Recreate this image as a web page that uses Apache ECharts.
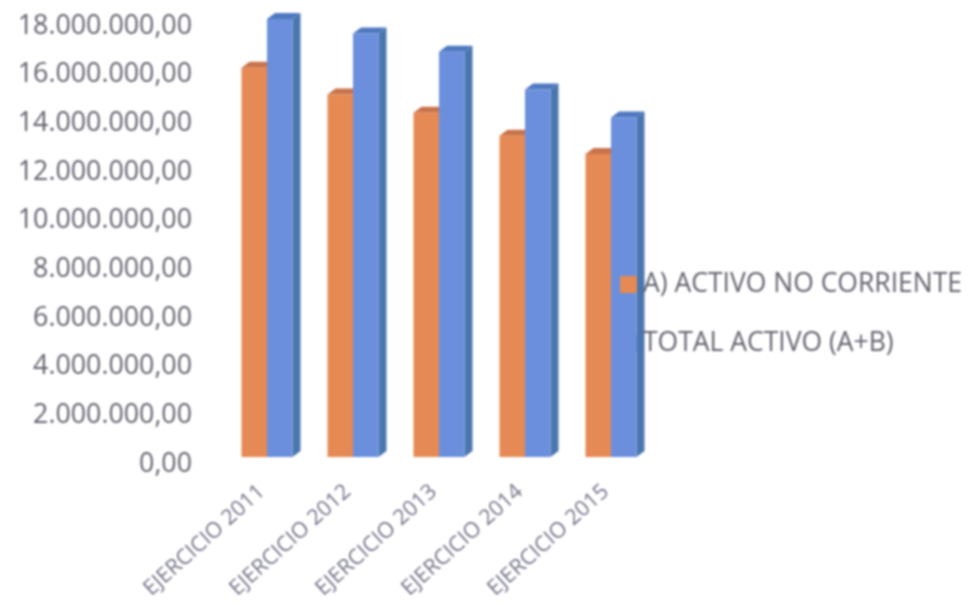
<!DOCTYPE html>
<html><head><meta charset="utf-8">
<style>html,body{margin:0;padding:0;background:#fff}#c{width:974px;height:606px;filter:blur(0.9px)}</style>
<script src="https://cdn.jsdelivr.net/npm/echarts@6/dist/echarts.min.js"></script>
</head><body><div id="c"></div>
<script>
const categories = ['EJERCICIO 2011','EJERCICIO 2012','EJERCICIO 2013','EJERCICIO 2014','EJERCICIO 2015'];
const activoNoCorriente = [16000000,14900000,14150000,13200000,12450000];
const totalActivo = [18000000,17400000,16650000,15100000,13950000];
const seriesNames = ['A) ACTIVO NO CORRIENTE','TOTAL ACTIVO (A+B)'];

const chart = echarts.init(document.getElementById('c'),null,{renderer:'canvas'});
const DX=8, DY=-6, BAR=25.5/86;
function bar3d(side, front, top, flank){
  return function(params, api){
    const band = api.size([1,0])[0];
    const w = band*BAR;
    const p = api.coord([api.value(0), api.value(1)]);
    const b = api.coord([api.value(0), 0]);
    const x0 = p[0] + (side<0 ? -w : 0), x1 = x0 + w;
    return {type:'group',children:[
      {type:'polygon',shape:{points:[[x1,p[1]],[x1+DX,p[1]+DY],[x1+DX,b[1]+DY],[x1,b[1]]]},style:{fill:flank}},
      {type:'polygon',shape:{points:[[x0,p[1]],[x0+DX,p[1]+DY],[x1+DX,p[1]+DY],[x1,p[1]]]},style:{fill:top}},
      {type:'rect',shape:{x:x0,y:p[1],width:w,height:b[1]-p[1]},style:{fill:front}}
    ]};
  };
}
chart.setOption({
  animation:false,
  backgroundColor:'#fff',
  textStyle:{fontFamily:'"Open Sans"'},
  grid:{left:224,right:320,top:19,bottom:149,containLabel:false},
  legend:{
    orient:'vertical',left:615,top:266,itemWidth:17,itemHeight:17,itemGap:32,
    icon:'rect',
    data:[seriesNames[0],seriesNames[1]],
    textStyle:{color:'#63636f',fontSize:26.5,padding:[0,0,0,1]}
  },
  xAxis:{type:'category',data:categories,
    axisLine:{show:false},axisTick:{show:false},
    axisLabel:{rotate:42,interval:0,margin:27,color:'#75758a',fontSize:21.6,padding:[0,7,0,0]}
  },
  yAxis:{type:'value',min:0,max:18000000,interval:2000000,
    axisLine:{show:false},axisTick:{show:false},splitLine:{show:false},
    axisLabel:{margin:32,color:'#63636f',fontSize:26.8,verticalAlign:'top',lineHeight:14,
      formatter:v=>{
        const s=String(v).replace(/\B(?=(\d{3})+$)/g,'.');
        return s+',00';
      }}
  },
  series:[
    {type:'custom',name:seriesNames[0],data:categories.map((c,i)=>[i,activoNoCorriente[i]]),
     encode:{x:0,y:1},itemStyle:{color:'#e58a54'},
     renderItem:bar3d(-1,'#e58a54','#c8734c','#c8734c')},
    {type:'custom',name:seriesNames[1],data:categories.map((c,i)=>[i,totalActivo[i]]),
     encode:{x:0,y:1},itemStyle:{color:'#6b8fdc'},
     renderItem:bar3d(1,'#6b8fdc','#4f78c0','#4a76ae')}
  ]
});
</script></body></html>
